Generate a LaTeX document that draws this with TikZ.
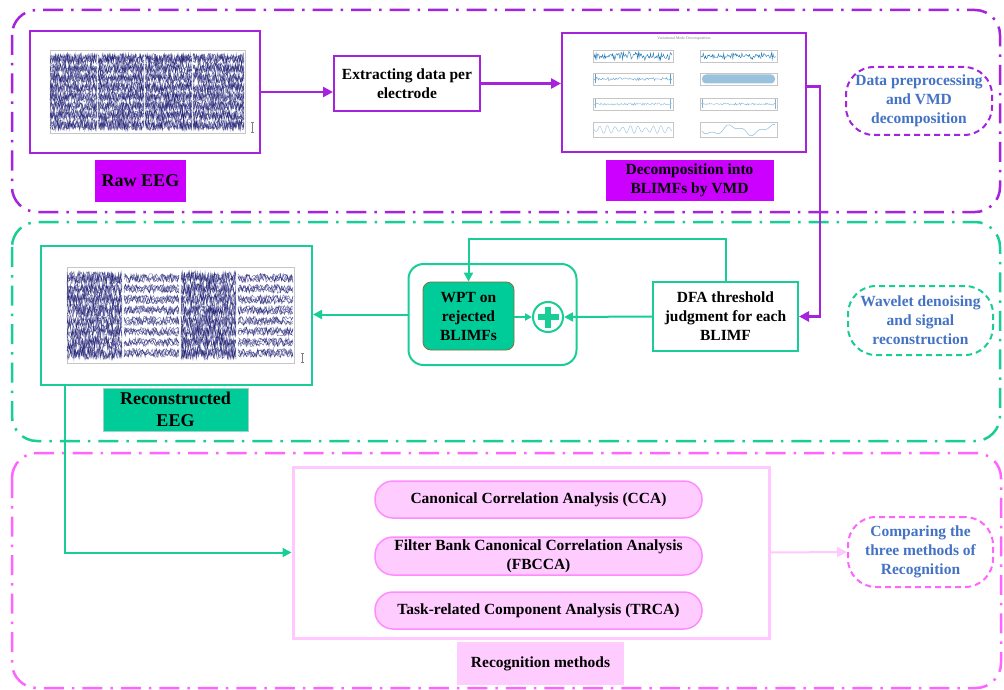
\documentclass[tikz,border=0pt]{standalone}
\usepackage{fontspec}
\setmainfont{Liberation Serif}
\usetikzlibrary{arrows.meta,calc}
\definecolor{purp}{RGB}{165,35,220}
\definecolor{mag}{RGB}{204,0,255}
\definecolor{grn}{RGB}{25,205,150}
\definecolor{grnfill}{RGB}{0,204,153}
\definecolor{pinkd}{RGB}{255,100,255}
\definecolor{lpink}{RGB}{255,200,255}
\definecolor{ellfill}{RGB}{255,204,255}
\definecolor{ellline}{RGB}{255,140,255}
\definecolor{bluet}{RGB}{68,114,196}
\definecolor{navy}{RGB}{20,20,110}
\definecolor{mblue}{RGB}{31,119,180}
\definecolor{olive}{RGB}{128,110,60}
\tikzset{
  txt/.style={font=\bfseries\fontsize{15.5}{19}\selectfont, align=center, inner sep=0pt},
  bigtxt/.style={font=\bfseries\fontsize{18}{22}\selectfont, align=center, inner sep=0pt},
  groupbox/.style={rounded corners=25pt, line width=2.5pt, dash pattern=on 20pt off 8pt on 2.5pt off 8pt},
  imgbox/.style={draw, line width=2pt, fill=white, inner sep=0pt},
  plainbox/.style={txt, draw, line width=2pt, fill=white},
  lblbox/.style={txt, line width=2pt, dash pattern=on 6pt off 4pt, rounded corners=28pt, text=bluet},
  ellbox/.style={txt, draw=ellline, fill=ellfill, line width=1.5pt, rounded corners=18pt, minimum width=327pt},
  parr/.style={draw=purp, line width=2.5pt, -{Triangle[length=10pt,width=10pt]}},
  garr/.style={draw=grn, line width=2pt, -{Triangle[length=9pt,width=9pt]}},
  eeg/.style={navy, line width=0.45pt, opacity=0.6},
  frm/.style={draw=gray!45, line width=0.4pt},
}
\newcommand\eegblk[6]{% x0 x1 ytop dy amp samples
  \foreach \ch in {0,...,7}{
    \foreach \tr in {1,2,3,4}{
      \draw[eeg] plot[samples=#6, domain=#1:#2] (\x, {#3+\ch*#4+#5*rand});
    }
  }}
\begin{document}
\begin{tikzpicture}[x=1pt,y=-1pt]
\useasboundingbox (0,0) rectangle (1004,690);
\fill[white] (0,0) rectangle (1004,690);
\pgfmathsetseed{4242}

% ---------------- groups ----------------
\draw[groupbox, draw=purp] (12,10) rectangle (1000,212);
\draw[groupbox, draw=grn] (12,222) rectangle (1000,441);
\draw[groupbox, draw=pinkd] (12,453) rectangle (1001,688);

% ---------------- group 1 ----------------
\node[imgbox, draw=purp, minimum width=230pt, minimum height=122pt] (raw) at (145,92) {};
\draw[frm] (50,50) rectangle (245,133);
\eegblk{50}{97}{59}{9.4}{5.5}{55}
\eegblk{98}{144}{59}{9.4}{5.5}{55}
\eegblk{145}{192}{59}{9.4}{5.5}{55}
\eegblk{193}{244}{59}{9.4}{5.5}{60}
\draw[gray, line width=0.4pt] (252,122) -- (252,132) (250.5,122) -- (253.5,122) (250.5,132) -- (253.5,132);
\node[bigtxt, fill=mag, minimum width=91pt, minimum height=42pt] (rawlbl) at (140.5,181) {Raw EEG};

\node[plainbox, draw=purp, minimum width=146pt, minimum height=55pt] (extract) at (407,83.5) {Extracting data per\\electrode};

\node[imgbox, draw=purp, minimum width=244pt, minimum height=119pt] (vmd) at (684,92.5) {};
\node[font=\fontsize{4}{5}\selectfont, text=gray, inner sep=0pt] (vmdtitle) at (684,39) {Variational Mode Decomposition};
% left column
\draw[frm] (593,50) rectangle (673,62);
\draw[mblue, line width=0.4pt] plot[samples=110, domain=0:78] ({594+\x}, {56+4.5*(0.4+0.6*abs(sin(\x*23)))*rand});
\draw[frm] (593,73) rectangle (673,85);
\draw[mblue!70, line width=0.4pt] plot[samples=90, domain=0:78] ({594+\x}, {79+1.8*(0.3+0.7*abs(sin(\x*31)))*rand});
\draw[mblue!70, line width=0.6pt] (595,74.5) -- (595,83.5) (670,74) -- (670,84);
\draw[frm] (593,98) rectangle (673,110);
\draw[mblue!50, line width=0.4pt] plot[samples=90, domain=0:78] ({594+\x}, {104+1.2*rand});
\draw[mblue!55, line width=0.6pt] (595,99.5) -- (595,108.5) (670,99) -- (670,109);
\draw[frm] (593,122) rectangle (673,137);
\draw[mblue!45, line width=0.4pt] plot[samples=90, domain=0:78] ({594+\x}, {129.5+4*sin(\x*47)*(0.4+0.6*abs(sin(\x*7)))});
% right column
\draw[frm] (700,50) rectangle (777,62);
\draw[mblue, line width=0.4pt] plot[samples=100, domain=0:75] ({701+\x}, {56+3.5*(0.3+0.7*abs(sin(\x*19)))*rand});
\draw[frm] (700,73) rectangle (777,85);
\fill[mblue!45, rounded corners=4pt] (702,74.5) rectangle (775,83.5);
\draw[frm] (700,98) rectangle (777,110);
\draw[mblue!55, line width=0.4pt] plot[samples=90, domain=0:75] ({701+\x}, {104+1.2*(0.2+0.8*abs(sin(\x*29)))*rand});
\draw[mblue!55, line width=0.6pt] (702,99.5) -- (702,108.5) (775,99) -- (775,109);
\draw[frm] (700,122) rectangle (777,137);
\draw[mblue!50, line width=0.5pt] plot[smooth, samples=30, domain=0:73] ({702+\x}, {130+4*sin(\x*9)+2*sin(\x*23+40)});

\node[txt, fill=mag, minimum width=168pt, minimum height=41pt] (vmdlbl) at (689.5,180.5) {Decomposition into\\BLIMFs by VMD};

\node[lblbox, draw=purp, minimum width=146pt, minimum height=68pt] (g1lbl) at (919,101) {Data preprocessing\\and VMD\\decomposition};

% ---------------- group 2 ----------------
\node[imgbox, draw=grn, minimum width=271pt, minimum height=139pt] (recon) at (176.5,315.5) {};
\draw[frm] (67,267) rectangle (294,363);
\eegblk{67}{122}{278}{10.7}{6.5}{65}
\eegblk{124}{179}{278}{10.7}{4.5}{40}
\eegblk{181}{236}{278}{10.7}{6.5}{65}
\eegblk{238}{293}{278}{10.7}{4.5}{40}
\draw[gray, line width=0.4pt] (302,353) -- (302,362) (300.5,353) -- (303.5,353) (300.5,362) -- (303.5,362);
\node[bigtxt, fill=grnfill, draw=grn!70!black!40, line width=0.6pt, minimum width=145pt, minimum height=43pt] (reconlbl) at (175.5,409.5) {Reconstructed\\EEG};

\node[draw=grn, line width=2pt, rounded corners=15pt, minimum width=168pt, minimum height=101pt] (wptouter) at (492.5,314.5) {};
\node[txt, draw=olive, line width=0.8pt, fill=grnfill, rounded corners=8pt, minimum width=91pt, minimum height=68pt] (wpt) at (468.5,316) {WPT on\\rejected\\BLIMFs};
\node[circle, draw=grn, line width=2pt, minimum size=30pt, inner sep=0pt, fill=white] (plus) at (548,317) {};
\draw[grn, line width=5.5pt] ($(plus)+(-10.5,0)$) -- ($(plus)+(10.5,0)$);
\draw[grn, line width=5.5pt] ($(plus)+(0,-10.5)$) -- ($(plus)+(0,10.5)$);

\node[plainbox, draw=grn, minimum width=145pt, minimum height=69pt] (dfa) at (725.5,316.5) {DFA threshold\\judgment for each\\BLIMF};

\node[lblbox, draw=grn, minimum width=145pt, minimum height=69pt] (g2lbl) at (920.5,320.5) {Wavelet denoising\\and signal\\reconstruction};

% ---------------- group 3 ----------------
\node[draw=lpink, line width=3pt, minimum width=476pt, minimum height=171pt] (recog) at (531,552.5) {};
\node[ellbox, minimum height=37pt] (cca) at (538.5,499.5) {Canonical Correlation Analysis (CCA)};
\node[ellbox, minimum height=38pt] (fbcca) at (538.5,556) {Filter Bank Canonical Correlation Analysis\\(FBCCA)};
\node[ellbox, minimum height=37pt] (trca) at (538.5,610.5) {Task-related Component Analysis (TRCA)};
\node[txt, fill=ellfill, minimum width=167pt, minimum height=43pt] (recoglbl) at (540.5,663.5) {Recognition methods};

\node[lblbox, draw=pinkd, minimum width=145pt, minimum height=70pt] (g3lbl) at (920.5,552) {Comparing the\\three methods of\\Recognition};

% ---------------- connectors ----------------
\draw[parr] (raw.east) -- (extract.west |- raw.east);
\draw[parr] (extract.east) -- (vmd.west |- extract.east);
\draw[parr] ([yshift=6pt]vmd.east) -- ++(13,0) |- (dfa.east);

\coordinate (looptop) at (0,239);
\draw[garr] (dfa.north) |- (wpt.north |- looptop) -- (wpt.north);
\draw[garr] (dfa.west) -- (plus.east);
\draw[draw=grn, line width=2pt, -{Triangle[length=7pt,width=7pt]}] (wpt.east |- plus.west) -- (plus.west);
\draw[garr] (wptouter.west) -- (recon.east |- wptouter.west);
\draw[garr] ([xshift=25pt]recon.south west) |- (recog.west);
\draw[draw=lpink, line width=2pt, -{Triangle[length=10pt,width=10pt]}] (recog.east) -- (g3lbl.west);
\end{tikzpicture}
\end{document}
